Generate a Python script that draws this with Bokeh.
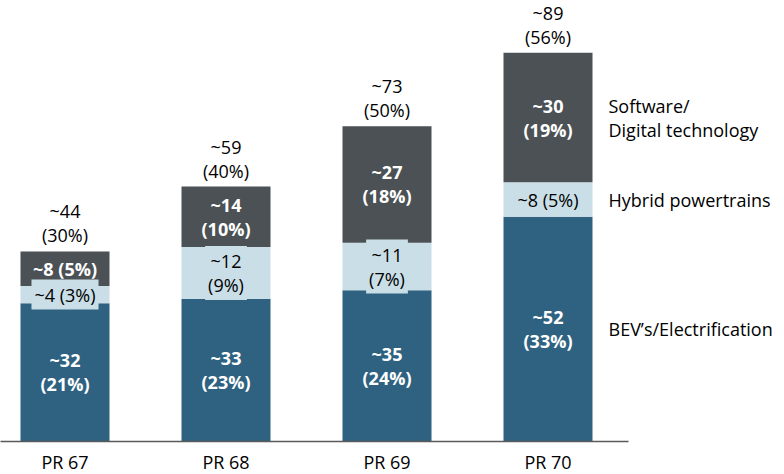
from bokeh.plotting import figure
from bokeh.models import ColumnDataSource, FixedTicker, Range1d
from bokeh.core.properties import value
from bokeh.embed import file_html
from bokeh.resources import INLINE

# ---- data ----
categories = ["PR 67", "PR 68", "PR 69", "PR 70"]
bev = [32, 33, 35, 52]
bev_pct = [21, 23, 24, 33]
hybrid = [4, 12, 11, 8]
hybrid_pct = [3, 9, 7, 5]
software = [8, 14, 27, 30]
software_pct = [5, 10, 18, 19]
total = [44, 59, 73, 89]
total_pct = [30, 40, 50, 56]
series_names = ["BEV\u2019s/Electrification", "Hybrid powertrains", "Software/\nDigital technology"]

# ---- style ----
C_BEV = "#2f6281"
C_HYB = "#c9dee6"
C_SW = "#4b5155"
FONT = value("Open Sans")
FS = "18px"
LH = 1.0

n = len(categories)
xs = list(range(n))
FW, FH = 784, 441
PX_PER_CAT = 161
x0 = -64.5 / PX_PER_CAT
x1 = x0 + FW / PX_PER_CAT
y1 = FH / 4.32


def lbl(v, pct):
    sep = " " if v < 10 else "\n"
    return f"~{v}{sep}({pct}%)"


b0 = [0] * n
b1 = list(bev)
b2 = [a + b for a, b in zip(bev, hybrid)]
b3 = [a + b + c for a, b, c in zip(bev, hybrid, software)]

src = ColumnDataSource(dict(
    x=xs, bev=bev, hyb=hybrid, sw=software,
    bev_mid=[(a + b) / 2 for a, b in zip(b0, b1)],
    hyb_mid=[(a + b) / 2 for a, b in zip(b1, b2)],
    sw_mid=[(a + b) / 2 for a, b in zip(b2, b3)],
    top=b3,
    bev_lbl=[lbl(v, p_) for v, p_ in zip(bev, bev_pct)],
    hyb_lbl=[lbl(v, p_) for v, p_ in zip(hybrid, hybrid_pct)],
    sw_lbl=[lbl(v, p_) for v, p_ in zip(software, software_pct)],
    tot_lbl=[f"~{v}\n({p_}%)" for v, p_ in zip(total, total_pct)],
))

p = figure(frame_width=FW, frame_height=FH, x_range=Range1d(x0, x1), y_range=Range1d(0, y1),
           output_backend="svg", toolbar_location=None, y_axis_location=None,
           min_border_left=0, min_border_right=0, min_border_top=0, min_border_bottom=0)
p.grid.visible = False
p.outline_line_color = None

p.vbar_stack(["bev", "hyb", "sw"], x="x", width=89 / PX_PER_CAT, color=[C_BEV, C_HYB, C_SW],
             line_color=None, source=src)

common = dict(source=src, text_align="center", text_baseline="middle", text_font=FONT,
              text_font_size=FS, text_line_height=LH)
p.text(x="x", y="bev_mid", text="bev_lbl", text_color="white", text_font_style="bold", **common)
p.text(x="x", y="sw_mid", text="sw_lbl", text_color="white", text_font_style="bold", **common)
p.text(x="x", y="hyb_mid", text="hyb_lbl", text_color="black", background_fill_color=C_HYB,
       padding=3, **common)
p.text(x="x", y="top", text="tot_lbl", source=src, text_align="center", text_baseline="bottom",
       text_font=FONT, text_font_size=FS, text_line_height=LH, text_color="black", y_offset=-4)

# series labels to the right of the last bar
leg = ColumnDataSource(dict(
    x=[n - 1 + (608 - 547.5) / PX_PER_CAT] * 3,
    y=[src.data["bev_mid"][-1], src.data["hyb_mid"][-1], src.data["sw_mid"][-1]],
    t=series_names,
))
p.text(x="x", y="y", text="t", source=leg, text_align="left", text_baseline="middle",
       text_font=FONT, text_font_size=FS, text_line_height=LH, text_color="black")

ax = p.xaxis[0]
ax.ticker = FixedTicker(ticks=xs)
ax.major_label_overrides = {i: c for i, c in enumerate(categories)}
ax.major_tick_line_color = None
ax.minor_tick_line_color = None
ax.major_tick_out = 0
ax.major_tick_in = 0
ax.axis_line_color = "#5a5a5a"
ax.axis_line_width = 1.5
ax.bounds = (x0, n - 0.5)
ax.major_label_text_font = "Open Sans"
ax.major_label_text_font_size = FS
ax.major_label_text_color = "black"
ax.major_label_standoff = 8

open("out.html", "w").write(file_html(p, INLINE))
